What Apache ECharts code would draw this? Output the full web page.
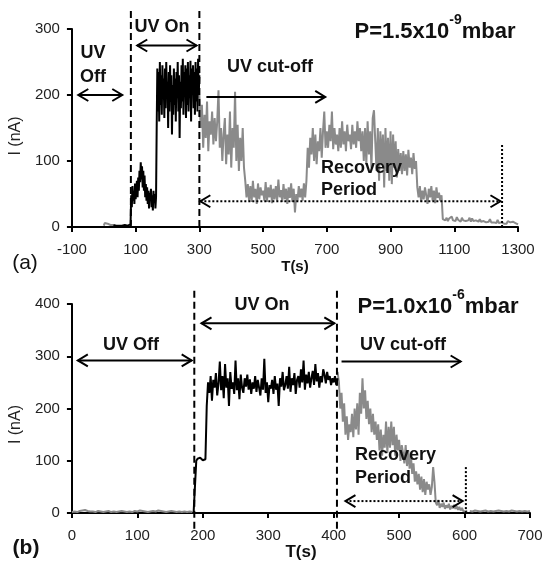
<!DOCTYPE html>
<html>
<head>
<meta charset="utf-8">
<script src="https://cdn.jsdelivr.net/npm/echarts@6/dist/echarts.min.js"></script>
<style>
  html, body { margin: 0; padding: 0; background: #fff; }
  #chart { width: 546px; height: 562px; }
</style>
</head>
<body>
<div id="chart"></div>
<script>
// ---- panel (a), P = 1.5x10^-9 mbar ----
var aTicksX = [-100, 100, 300, 500, 700, 900, 1100, 1300];
var aPreStart = 0, aPreStep = 3;
var aPre = [2, 6, 8, 7, 5, 4, 6, 3, 3, 2, 3];
// UV on, black trace: dark baseline, first step, then the high plateau
var aBaseStart = 30, aBaseStep = 3;
var aBase = [3, 2, 3, 2, 2, 3, 2, 3, 2, 2, 3, 2, 3, 2, 3, 2, 3, 2, 4];
var aMidStart = 86, aMidStep = 2;
var aMid = [48, 30, 62, 40, 55, 35, 66, 42, 58, 70,
  45, 75, 55, 85, 68, 98, 72, 92, 60, 85,
  55, 78, 45, 65, 40, 60, 35, 55, 28, 52,
  40, 58, 30, 48, 25, 55, 38, 50, 28, 45];
var aHighStart = 166, aHighStep = 2;
var aHigh = [150, 240, 175, 235, 160, 250, 185, 230, 170, 245,
  195, 225, 165, 240, 180, 250, 200, 220, 150, 235,
  175, 245, 190, 230, 140, 215, 170, 240, 185, 225,
  160, 235, 195, 250, 175, 230, 135, 220, 180, 245,
  190, 255, 170, 235, 200, 245, 165, 240, 185, 250,
  175, 230, 195, 252, 160, 240, 205, 245, 180, 235,
  170, 250, 190, 240, 175, 255, 200, 230];
var aCutStart = 300, aCutStep = 4;
var aCut = [200, 150, 185, 120, 170, 135, 190, 115, 160, 140,
  175, 125, 165, 130, 160, 207, 120, 150, 100, 140,
  165, 95, 140, 110, 175, 90, 150, 120, 205, 100,
  155, 85, 135, 100, 150, 90, 70, 45, 65, 40,
  62, 38, 70, 45, 58, 35, 66, 42, 60, 48,
  55, 40, 68, 38, 60, 45, 64, 36, 58, 42,
  62, 40, 72, 45, 56, 38, 65, 42, 58, 35,
  60, 44, 66, 38, 58, 22, 50, 40, 62, 45,
  58, 40, 66, 45, 70, 120, 90, 135, 110, 150,
  100, 140, 95, 130, 115, 150, 105, 145, 175, 120,
  145, 120, 155, 130, 175, 118, 150, 125, 140, 115,
  150, 120, 160, 125, 145, 115, 155, 130, 140, 118,
  155, 125, 145, 120, 160, 130, 150, 115, 145, 100,
  150, 95, 160, 110, 145, 90, 165, 177, 130, 85,
  150, 70, 145, 95, 140, 60, 150, 85, 135, 70,
  145, 65, 140, 90, 130, 75, 118, 85, 112, 80,
  115, 85, 110, 78, 117, 90, 105, 80, 112, 88,
  100, 60, 45, 62, 38, 55, 42, 60, 48, 35,
  58, 45, 62, 40, 55, 36, 60, 44, 52, 40,
  48, 12, 15, 10, 14, 9, 13, 11, 16, 10,
  13, 9, 15, 11, 12, 8, 14, 10, 13, 9,
  12, 10, 14, 8, 13, 9, 12, 10, 11, 8,
  12, 8, 10, 9, 11, 7, 10, 8, 12, 7,
  10, 7, 9, 6, 11, 6, 8, 7, 9, 5,
  8, 5, 9, 6, 7, 4, 8, 5, 6, 3,
  4];

// ---- panel (b), P = 1.0x10^-6 mbar ----
var bTicksX = [0, 100, 200, 300, 400, 500, 600, 700];
var bPreStart = 0, bPreStep = 4;
var bPre = [2, 3, 2, 4, 5, 6, 4, 3, 3, 2, 4, 3, 2, 3, 4, 2, 3, 2, 3, 4, 3, 2, 3, 2,
  4, 3, 5, 4, 3, 2, 3, 4, 3, 5, 4, 3, 2, 3, 4, 3, 2, 3, 2, 3, 2, 3, 2];
var bOnStart = 186, bOnStep = 2;
var bOn = [2, 3, 100, 104, 102, 106, 103, 101, 104, 103,
  205, 250, 230, 262, 215, 255, 240, 268, 225, 248,
  290, 235, 262, 220, 285, 240, 258, 205, 270, 238,
  250, 228, 292, 235, 258, 218, 265, 240, 230, 258,
  242, 265, 236, 256, 228, 250, 238, 262, 232, 255,
  240, 225, 258, 236, 295, 230, 250, 212, 245, 238,
  255, 228, 262, 236, 248, 205, 258, 242, 270, 235,
  245, 262, 238, 280, 232, 258, 245, 268, 228, 255,
  262, 240, 275, 250, 292, 236, 265, 248, 270, 240,
  258, 272, 245, 285, 252, 268, 240, 262, 250, 275,
  265, 248, 270, 255, 262, 245, 258, 250, 262, 245,
  258];
var bCutStart = 406, bCutStep = 2;
var bCut = [270, 250, 200, 230, 175, 210, 150, 185, 140, 170,
  155, 190, 145, 200, 160, 210, 150, 230, 190, 258,
  200, 235, 180, 215, 170, 200, 155, 190, 150, 175,
  140, 170, 120, 160, 110, 150, 125, 175, 115, 165,
  125, 175, 130, 165, 110, 150, 120, 140, 100, 130,
  115, 95, 130, 90, 120, 85, 110, 75, 95, 60,
  80, 55, 75, 45, 70, 40, 65, 35, 60, 45,
  55, 35, 50, 88, 60, 20, 15, 25, 10, 18,
  12, 20, 8, 15, 10, 18, 7, 14, 9, 16,
  8, 13, 6, 12, 5, 10, 4, 6, 3, 5];
var bTailStart = 608, bTailStep = 4;
var bTail = [4, 3, 5, 4, 3, 4, 5, 3, 4, 3, 4, 5, 4, 3, 4, 3, 5, 4, 3, 4, 3, 4, 3, 4];

function seg(t0, step, vals) {
  return vals.map(function (v, i) { return [t0 + i * step, v]; });
}

var GRAY = '#8a8a8a';
var FONT = 'Arial, "Liberation Sans", sans-serif';

var chart = echarts.init(document.getElementById('chart'));

function xAxisBase(grid, min, max, ticks, nameGap, nameSize) {
  return {
    gridIndex: grid, type: 'value', min: min, max: max,
    name: 'T(s)', nameLocation: 'middle', nameGap: nameGap,
    nameTextStyle: { color: '#111', fontSize: nameSize, fontWeight: 'bold', fontFamily: FONT },
    axisLine: { onZero: false, lineStyle: { color: '#000', width: 2 } },
    axisTick: { customValues: ticks, length: 5, lineStyle: { color: '#000', width: 2 } },
    axisLabel: { customValues: ticks, color: '#222', fontSize: 15, fontFamily: FONT, margin: 15,
      formatter: function (v) { return String(v); } },
    splitLine: { show: false }
  };
}
function yAxisBase(grid, max, nameGap, shift) {
  return {
    gridIndex: grid, type: 'value', min: 0, max: max, interval: 100,
    name: 'I (nA)', nameLocation: 'middle', nameGap: nameGap,
    nameTextStyle: { color: '#222', fontSize: 16, fontFamily: FONT, padding: [0, shift, 0, 0] },
    axisLine: { show: true, onZero: false, lineStyle: { color: '#000', width: 2 } },
    axisTick: { show: true, length: 5, lineStyle: { color: '#000', width: 2 } },
    axisLabel: { color: '#222', fontSize: 15, fontFamily: FONT, margin: 12 },
    splitLine: { show: false }
  };
}
function trace(grid, data, color) {
  return {
    type: 'line', xAxisIndex: grid, yAxisIndex: grid, data: data,
    symbol: 'none', lineStyle: { color: color, width: 2 }, z: 3
  };
}

var aBlack = seg(aBaseStart, aBaseStep, aBase)
  .concat(seg(aMidStart, aMidStep, aMid))
  .concat(seg(aHighStart, aHighStep, aHigh));

chart.setOption({
  animation: false,
  backgroundColor: '#fff',
  grid: [
    { left: 67, top: 29, width: 451, height: 198 },
    { left: 70, top: 304, width: 460, height: 210 }
  ],
  xAxis: [
    xAxisBase(0, -100, 1300, aTicksX, 32, 15),
    xAxisBase(1, 0, 700, bTicksX, 25, 17)
  ],
  yAxis: [yAxisBase(0, 300, 44, 16), yAxisBase(1, 400, 46, 32)],
  series: [
    trace(0, seg(aPreStart, aPreStep, aPre), GRAY),
    trace(0, seg(aCutStart, aCutStep, aCut), GRAY),
    trace(0, aBlack, '#000'),
    trace(1, seg(bPreStart, bPreStep, bPre), GRAY),
    trace(1, seg(bCutStart, bCutStep, bCut), GRAY),
    trace(1, seg(bTailStart, bTailStep, bTail), GRAY),
    trace(1, seg(bOnStart, bOnStep, bOn), '#000')
  ]
});

// annotations, in data units of each panel
var arrows = [
  { g: 0, y: 200, x0: -80, x1: 58, heads: 2 },
  { g: 0, y: 275, x0: 105, x1: 291, heads: 2 },
  { g: 0, y: 197, x0: 322, x1: 695, heads: 1 },
  { g: 0, y: 39, x0: 303, x1: 1245, heads: 2, dotted: true },
  { g: 1, y: 292, x0: 9, x1: 183, heads: 2 },
  { g: 1, y: 363, x0: 198, x1: 401, heads: 2 },
  { g: 1, y: 290, x0: 412, x1: 594, heads: 1 },
  { g: 1, y: 23, x0: 418, x1: 597, heads: 2, dotted: true }
];
var vlines = [
  { g: 0, x: 85, y0: 0, y1: 329, dash: [7, 4] },
  { g: 0, x: 300, y0: 0, y1: 329, dash: [7, 4] },
  { g: 0, x: 1250, y0: 0, y1: 125, dash: [2, 2] },
  { g: 1, x: 187, y0: -30, y1: 430, dash: [7, 4] },
  { g: 1, x: 405, y0: -30, y1: 430, dash: [7, 4] },
  { g: 1, x: 602, y0: 0, y1: 88, dash: [2, 2] }
];
var labels = [
  { x: 93, y: 53, text: 'UV' },
  { x: 93, y: 77, text: 'Off' },
  { x: 162, y: 27, text: 'UV On' },
  { x: 270, y: 67, text: 'UV cut-off' },
  { x: 321, y: 168, text: 'Recovery', left: true },
  { x: 321, y: 190, text: 'Period', left: true },
  { x: 131, y: 345, text: 'UV Off' },
  { x: 262, y: 305, text: 'UV On' },
  { x: 403, y: 345, text: 'UV cut-off' },
  { x: 355, y: 455, text: 'Recovery', left: true },
  { x: 355, y: 478, text: 'Period', left: true }
];

function toPx(g, x, y) { return chart.convertToPixel({ gridIndex: g }, [x, y]); }

var gfx = [];
vlines.forEach(function (v) {
  var p0 = toPx(v.g, v.x, v.y0), p1 = toPx(v.g, v.x, v.y1);
  gfx.push({ type: 'line', z: 50, shape: { x1: p0[0], y1: p0[1], x2: p1[0], y2: p1[1] },
    style: { stroke: '#000', lineWidth: 2, lineDash: v.dash } });
});
function head(x, y, dir) {
  return { type: 'polyline', z: 50,
    shape: { points: [[x - dir * 10, y - 6], [x, y], [x - dir * 10, y + 6]] },
    style: { stroke: '#000', lineWidth: 2, fill: null } };
}
arrows.forEach(function (a) {
  var p0 = toPx(a.g, a.x0, a.y), p1 = toPx(a.g, a.x1, a.y);
  gfx.push({ type: 'line', z: 50, shape: { x1: p0[0], y1: p0[1], x2: p1[0], y2: p1[1] },
    style: { stroke: '#000', lineWidth: 2, lineDash: a.dotted ? [2, 2] : null } });
  gfx.push(head(p1[0], p1[1], 1));
  if (a.heads === 2) gfx.push(head(p0[0], p0[1], -1));
});
labels.forEach(function (l) {
  gfx.push({ type: 'text', z: 60, x: l.x, y: l.y,
    style: { text: l.text, font: 'bold 18px ' + FONT, fill: '#111',
      align: l.left ? 'left' : 'center', verticalAlign: 'middle' } });
});
function pressure(x, y, mant, exp) {
  return { type: 'text', z: 60, x: x, y: y,
    style: {
      text: '{m|P=' + mant + 'x10}{e|' + exp + '}{m|mbar}',
      align: 'center', verticalAlign: 'middle',
      rich: {
        m: { font: 'bold 22px ' + FONT, fill: '#111', verticalAlign: 'bottom', lineHeight: 30 },
        e: { font: 'bold 14px ' + FONT, fill: '#111', verticalAlign: 'top', lineHeight: 30 }
      }
    } };
}
gfx.push(pressure(435, 28, '1.5', '-9'));
gfx.push(pressure(438, 303, '1.0', '-6'));
gfx.push({ type: 'text', z: 60, x: 25, y: 263,
  style: { text: '(a)', font: '21px ' + FONT, fill: '#111', align: 'center', verticalAlign: 'middle' } });
gfx.push({ type: 'text', z: 60, x: 26, y: 548,
  style: { text: '(b)', font: 'bold 21px ' + FONT, fill: '#111', align: 'center', verticalAlign: 'middle' } });

chart.setOption({ graphic: gfx });
</script>
</body>
</html>
